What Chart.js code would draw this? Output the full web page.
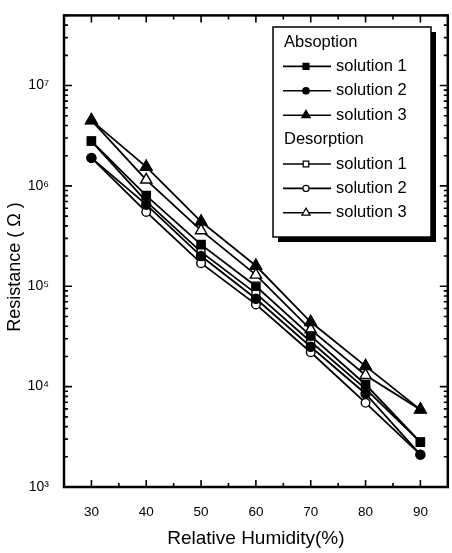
<!DOCTYPE html>
<html>
<head>
<meta charset="utf-8">
<script src="https://cdn.jsdelivr.net/npm/chart.js@4/dist/chart.umd.min.js"></script>
<style>
  html, body { margin: 0; padding: 0; background: #fff; overflow: hidden; }
  canvas { display: block; }
</style>
</head>
<body>
<canvas id="grafica" width="456" height="553" style="width:456px;height:553px"></canvas>
<script>
// humedad relativa (%)
var humedad = [30, 40, 50, 60, 70, 80, 90];

// resistencia (ohm) - absorcion
var absSol1 = [2.8e6, 8.0e5, 2.6e5, 1.0e5, 3.2e4, 1.05e4, 2.8e3];
var absSol2 = [1.9e6, 6.5e5, 2.0e5, 7.5e4, 2.5e4, 8.5e3, 2.1e3];
var absSol3 = [4.5e6, 1.55e6, 4.4e5, 1.6e5, 4.4e4, 1.6e4, 5.9e3];
// resistencia (ohm) - desorcion
var desSol1 = [2.8e6, 7.0e5, 2.2e5, 8.5e4, 2.8e4, 9.5e3, 2.8e3];
var desSol2 = [1.9e6, 5.5e5, 1.7e5, 6.6e4, 2.2e4, 6.9e3, 2.1e3];
var desSol3 = [4.5e6, 1.15e6, 3.6e5, 1.3e5, 3.7e4, 1.3e4, 5.9e3];

var ticksX = [30, 40, 50, 60, 70, 80, 90];
var ticksXMenores = [25, 35, 45, 55, 65, 75, 85, 95];
var exponentesY = [3, 4, 5, 6, 7];
var superindices = {3: '\u00b3', 4: '\u2074', 5: '\u2075', 6: '\u2076', 7: '\u2077'};

var fuente = "'Liberation Sans', Arial, Helvetica, sans-serif";

function puntos(valores) {
    return humedad.map(function (h, i) { return {x: h, y: valores[i]}; });
}

function serie(label, valores, estilo, radio, relleno) {
    return {
        label: label,
        data: puntos(valores),
        borderColor: '#000',
        borderWidth: 1.8,
        backgroundColor: relleno,
        pointStyle: estilo,
        pointRadius: radio,
        pointBorderWidth: 1.4,
        pointBackgroundColor: relleno,
        pointBorderColor: '#000',
        tension: 0
    };
}

// absorcion primero para que quede encima
var datasets = [
    serie('solution 1', absSol1, 'rect', 5.8, '#000'),
    serie('solution 2', absSol2, 'circle', 4.5, '#000'),
    serie('solution 3', absSol3, 'triangle', 6.8, '#000'),
    serie('solution 1', desSol1, 'rect', 5.5, '#fff'),
    serie('solution 2', desSol2, 'circle', 4.3, '#fff'),
    serie('solution 3', desSol3, 'triangle', 6.5, '#fff')
];

function dibujarMarcador(ctx, ds, x, y, radio) {
    ctx.fillStyle = ds.pointBackgroundColor;
    ctx.strokeStyle = '#000';
    ctx.lineWidth = 1.2;
    Chart.helpers.drawPoint(ctx, {pointStyle: ds.pointStyle, radius: radio, rotation: 0, borderWidth: 1.2}, x, y);
}

var marco = {
    id: 'marco',
    afterDraw: function (chart) {
        var ctx = chart.ctx;
        var a = chart.chartArea;
        var sx = chart.scales.x;
        var sy = chart.scales.y;
        ctx.save();
        ctx.strokeStyle = '#000';

        // marco
        ctx.lineWidth = 2.5;
        ctx.strokeRect(a.left, a.top, a.right - a.left, a.bottom - a.top);

        // marcas hacia adentro
        ctx.lineWidth = 1.6;
        ctx.beginPath();
        ticksX.forEach(function (v) {
            var px = sx.getPixelForValue(v);
            ctx.moveTo(px, a.bottom); ctx.lineTo(px, a.bottom - 7);
            ctx.moveTo(px, a.top); ctx.lineTo(px, a.top + 7);
        });
        ticksXMenores.forEach(function (v) {
            var px = sx.getPixelForValue(v);
            ctx.moveTo(px, a.bottom); ctx.lineTo(px, a.bottom - 4);
            ctx.moveTo(px, a.top); ctx.lineTo(px, a.top + 4);
        });
        exponentesY.forEach(function (e) {
            for (var m = 1; m <= 9; m++) {
                var v = m * Math.pow(10, e);
                if (v > sy.max) break;
                var py = sy.getPixelForValue(v);
                var largo = m === 1 ? 8 : 4;
                ctx.moveTo(a.left, py); ctx.lineTo(a.left + largo, py);
                ctx.moveTo(a.right, py); ctx.lineTo(a.right - largo, py);
            }
        });
        ctx.stroke();

        // titulo eje y
        ctx.fillStyle = '#000';
        ctx.font = '18px ' + fuente;
        ctx.textAlign = 'center';
        ctx.textBaseline = 'middle';
        ctx.translate(15, 267);
        ctx.rotate(-Math.PI / 2);
        ctx.fillText('Resistance ( \u03a9 )', 0, 0);
        ctx.restore();

        // leyenda
        ctx.save();
        var L = 273, T = 27, W = 158, H = 210;
        ctx.fillStyle = '#000';
        ctx.fillRect(L + 5, T + 5, W, H);
        ctx.fillStyle = '#fff';
        ctx.fillRect(L, T, W, H);
        ctx.strokeStyle = '#000';
        ctx.lineWidth = 1.5;
        ctx.strokeRect(L, T, W, H);

        ctx.font = '16.5px ' + fuente;
        ctx.textAlign = 'left';
        ctx.textBaseline = 'middle';
        var filas = ['Absoption', 0, 1, 2, 'Desorption', 3, 4, 5];
        filas.forEach(function (f, i) {
            var y = 42 + i * 24.4;
            ctx.fillStyle = '#000';
            if (typeof f === 'string') {
                ctx.fillText(f, 284, y);
                return;
            }
            var ds = chart.data.datasets[f];
            ctx.strokeStyle = '#000';
            ctx.lineWidth = 1.6;
            ctx.beginPath();
            ctx.moveTo(283, y); ctx.lineTo(331, y);
            ctx.stroke();
            dibujarMarcador(ctx, ds, 306, y, ds.pointRadius * 0.72);
            ctx.fillStyle = '#000';
            ctx.fillText(ds.label, 336, y);
        });
        ctx.restore();
    }
};

var ctx = document.getElementById('grafica').getContext('2d');
var chart = new Chart(ctx, {
    type: 'line',
    data: { datasets: datasets },
    options: {
        responsive: false,
        animation: false,
        layout: { padding: { top: 8, right: 3, left: 0, bottom: 0 } },
        plugins: {
            legend: { display: false },
            tooltip: { enabled: false }
        },
        scales: {
            x: {
                type: 'linear',
                min: 25,
                max: 95,
                grid: { display: false },
                border: { display: false },
                afterBuildTicks: function (scale) {
                    scale.ticks = ticksX.map(function (v) { return {value: v}; });
                },
                afterFit: function (scale) { scale.height = 66; },
                ticks: {
                    color: '#000',
                    padding: 9,
                    maxRotation: 0,
                    font: { family: fuente, size: 13.5 }
                },
                title: {
                    display: true,
                    text: 'Relative Humidity(%)',
                    color: '#000',
                    font: { family: fuente, size: 19 },
                    padding: { top: 0, bottom: 3 }
                }
            },
            y: {
                type: 'logarithmic',
                min: 1000,
                max: 5e7,
                grid: { display: false },
                border: { display: false },
                afterBuildTicks: function (scale) {
                    scale.ticks = exponentesY.map(function (e) { return {value: Math.pow(10, e)}; });
                },
                afterFit: function (scale) { scale.width = 64; },
                ticks: {
                    color: '#000',
                    padding: 7,
                    font: { family: fuente, size: 14 },
                    callback: function (value) {
                        var e = Math.round(Math.log10(value));
                        return '10' + superindices[e];
                    }
                }
            }
        }
    },
    plugins: [marco]
});
</script>
</body>
</html>
